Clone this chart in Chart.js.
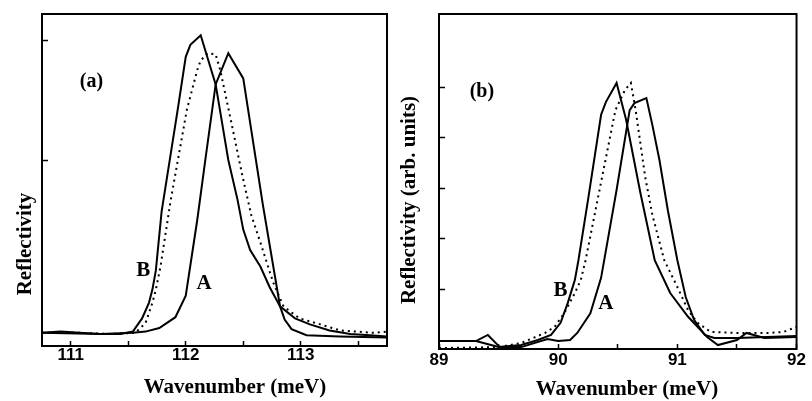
<!DOCTYPE html>
<html><head><meta charset="utf-8">
<script src="https://cdn.jsdelivr.net/npm/chart.js@4.4.0/dist/chart.umd.min.js"></script>
<style>
html,body{margin:0;padding:0;background:#fff;width:812px;height:401px;overflow:hidden}
#ca{position:absolute;left:0;top:0}
#cb{position:absolute;left:400px;top:0}
</style></head><body>
<canvas id="ca" width="400" height="401"></canvas>
<canvas id="cb" width="412" height="401"></canvas>
<script>
// ---------- Panel (a) data ----------
const aBx = [110.75,110.91,111.08,111.26,111.43,111.54,111.62,111.68,111.71,111.74,111.79,111.93,112.00,112.04,112.13,112.19,112.26,112.37,112.45,112.50,112.56,112.65,112.73,112.82,112.95,113.08,113.25,113.43,113.60,113.75];
const aBy = [0.56,0.57,0.56,0.55,0.55,0.57,0.68,0.81,0.92,1.08,1.57,2.42,2.86,2.96,3.04,2.85,2.63,2.00,1.67,1.42,1.25,1.11,0.94,0.78,0.68,0.63,0.58,0.55,0.54,0.53];
const aDotx = [110.75,111.08,111.34,111.56,111.65,111.71,111.74,111.78,111.87,112.01,112.10,112.13,112.19,112.26,112.30,112.41,112.49,112.57,112.65,112.76,112.85,112.99,113.17,113.34,113.63,113.75];
const aDoty = [0.56,0.56,0.55,0.56,0.64,0.81,0.92,1.11,1.67,2.42,2.75,2.83,2.89,2.88,2.75,2.25,1.88,1.54,1.31,0.98,0.78,0.68,0.63,0.58,0.56,0.57];
const aAx = [110.75,111.26,111.54,111.65,111.77,111.91,112.00,112.10,112.17,112.26,112.37,112.50,112.67,112.73,112.82,112.86,112.92,113.05,113.34,113.75];
const aAy = [0.56,0.55,0.56,0.57,0.60,0.69,0.87,1.50,2.00,2.63,2.89,2.68,1.63,1.29,0.78,0.67,0.59,0.54,0.53,0.52];
const aXTicks = [111,111.5,112,112.5,113,113.5];
const aXLabels = ['111','','112','','113',''];
const aYTicks = [2,3];
const aNotes = [{text:'(a)',x:111.18,y:2.65,size:20},{text:'B',x:111.63,y:1.08,size:21},{text:'A',x:112.16,y:0.97,size:21}];

// ---------- Panel (b) data ----------
const bBx = [89.00,89.31,89.50,89.69,89.83,89.94,90.02,90.08,90.14,90.17,90.25,90.36,90.40,90.49,90.57,90.69,90.81,90.94,91.09,91.25,91.34,91.50,91.58,91.73,92.00];
const bBy = [-0.02,-0.02,-0.14,-0.10,0.00,0.10,0.34,0.73,1.19,1.58,2.77,4.46,4.71,5.09,4.36,2.91,1.58,0.93,0.46,0.06,-0.10,0.00,0.14,0.04,0.06];
const bDotx = [89.00,89.50,89.69,89.89,89.97,90.05,90.14,90.19,90.23,90.33,90.48,90.56,90.61,90.65,90.73,90.79,90.89,91.00,91.09,91.17,91.28,91.50,91.78,91.89,92.00];
const bDoty = [-0.16,-0.14,-0.06,0.14,0.26,0.53,0.93,1.19,1.58,2.77,4.55,4.95,5.09,4.55,3.23,2.48,1.58,1.05,0.59,0.34,0.16,0.14,0.14,0.16,0.26];
const bAx = [89.00,89.31,89.41,89.51,89.69,89.91,90.00,90.10,90.16,90.27,90.36,90.49,90.60,90.64,90.74,90.79,90.85,90.92,91.00,91.07,91.14,91.23,91.31,91.50,92.00];
const bAy = [-0.02,-0.02,0.10,-0.14,-0.14,0.02,-0.02,0.00,0.14,0.53,1.23,2.97,4.55,4.69,4.79,4.26,3.56,2.57,1.58,0.85,0.40,0.10,0.04,0.04,0.08];
const bXTicks = [89,89.5,90,90.5,91,91.5,92];
const bXLabels = ['89','','90','','91','','92'];
const bYTicks = [1,2,3,4,5];
const bNotes = [{text:'(b)',x:89.36,y:4.92,size:20},{text:'B',x:90.02,y:0.98,size:21},{text:'A',x:90.40,y:0.72,size:21}];

const zip = (xs, ys) => xs.map((x, i) => ({x: x, y: ys[i]}));

const framePlugin = {
  id: 'frame',
  afterDraw(chart) {
    const {ctx, chartArea: c} = chart;
    ctx.save();
    ctx.strokeStyle = '#000';
    ctx.lineWidth = 2;
    ctx.strokeRect(c.left, c.top, c.right - c.left, c.bottom - c.top);
    ctx.restore();
  }
};

const textPlugin = {
  id: 'textLayer',
  afterDraw(chart, args, opts) {
    const ctx = chart.ctx;
    ctx.save();
    ctx.fillStyle = '#000';
    ctx.textAlign = 'center';
    ctx.textBaseline = 'middle';
    (opts.titles || []).forEach(t => {
      ctx.font = 'bold ' + t.size + 'px "Liberation Serif", "Times New Roman", serif';
      ctx.save();
      ctx.translate(t.px, t.py);
      if (t.rot) ctx.rotate(-Math.PI / 2);
      ctx.fillText(t.text, 0, 0);
      ctx.restore();
    });
    const xs = chart.scales.x, ys = chart.scales.y;
    (opts.notes || []).forEach(n => {
      ctx.font = 'bold ' + n.size + 'px "Liberation Serif", "Times New Roman", serif';
      ctx.fillText(n.text, xs.getPixelForValue(n.x), ys.getPixelForValue(n.y));
    });
    ctx.restore();
  }
};

function makeChart(id, cfg) {
  const tickFont = {family: '"Liberation Sans", Arial, sans-serif', weight: 'bold', size: 17};
  return new Chart(document.getElementById(id), {
    type: 'line',
    data: {
      datasets: [
        {label: 'B', data: zip(cfg.Bx, cfg.By), borderColor: '#000', borderWidth: 2, pointRadius: 0, tension: 0, fill: false},
        {label: 'calc', data: zip(cfg.Dx, cfg.Dy), borderColor: '#000', borderWidth: 2, borderDash: [2, 4], pointRadius: 0, tension: 0, fill: false},
        {label: 'A', data: zip(cfg.Ax, cfg.Ay), borderColor: '#000', borderWidth: 2, pointRadius: 0, tension: 0, fill: false}
      ]
    },
    options: {
      responsive: false,
      animation: false,
      devicePixelRatio: 1,
      layout: {padding: {top: cfg.padTop, right: cfg.padRight, left: 0, bottom: 0}},
      plugins: {
        legend: {display: false},
        tooltip: {enabled: false},
        textLayer: {titles: cfg.titles, notes: cfg.notes}
      },
      scales: {
        x: {
          type: 'linear', min: cfg.xMin, max: cfg.xMax,
          afterBuildTicks: s => { s.ticks = cfg.xTicks.map(v => ({value: v})); },
          afterFit: s => { s.height = cfg.xH; },
          ticks: {callback: (v, i) => cfg.xLabels[i], autoSkip: false, maxRotation: 0, minRotation: 0,
                  font: tickFont, color: '#000', padding: cfg.tickPad},
          grid: {drawOnChartArea: false, drawTicks: true, tickLength: -5, tickColor: '#000', tickWidth: 1.5},
          border: {display: false}
        },
        y: {
          type: 'linear', min: cfg.yMin, max: cfg.yMax,
          afterBuildTicks: s => { s.ticks = cfg.yTicks.map(v => ({value: v})); },
          afterFit: s => { s.width = cfg.yW; },
          ticks: {display: false},
          grid: {drawOnChartArea: false, drawTicks: true, tickLength: -6, tickColor: '#000', tickWidth: 1.5},
          border: {display: false}
        }
      }
    },
    plugins: [framePlugin, textPlugin]
  });
}

makeChart('ca', {
  Bx: aBx, By: aBy, Dx: aDotx, Dy: aDoty, Ax: aAx, Ay: aAy,
  xMin: 110.75, xMax: 113.75, yMin: 0.45, yMax: 3.217,
  xTicks: aXTicks, xLabels: aXLabels, yTicks: aYTicks,
  padTop: 14, padRight: 13, yW: 42, xH: 55, tickPad: 4,
  notes: aNotes,
  titles: [
    {text: 'Wavenumber (meV)', px: 235, py: 388, size: 21},
    {text: 'Reflectivity', px: 26, py: 244, size: 21, rot: true}
  ]
});

makeChart('cb', {
  Bx: bBx, By: bBy, Dx: bDotx, Dy: bDoty, Ax: bAx, Ay: bAy,
  xMin: 89, xMax: 92, yMin: -0.178, yMax: 6.455,
  xTicks: bXTicks, xLabels: bXLabels, yTicks: bYTicks,
  padTop: 14, padRight: 12, yW: 39, xH: 52, tickPad: 6,
  notes: bNotes,
  titles: [
    {text: 'Wavenumber (meV)', px: 227, py: 390, size: 21},
    {text: 'Reflectivity (arb. units)', px: 10, py: 200, size: 21, rot: true}
  ]
});
</script>
</body></html>
